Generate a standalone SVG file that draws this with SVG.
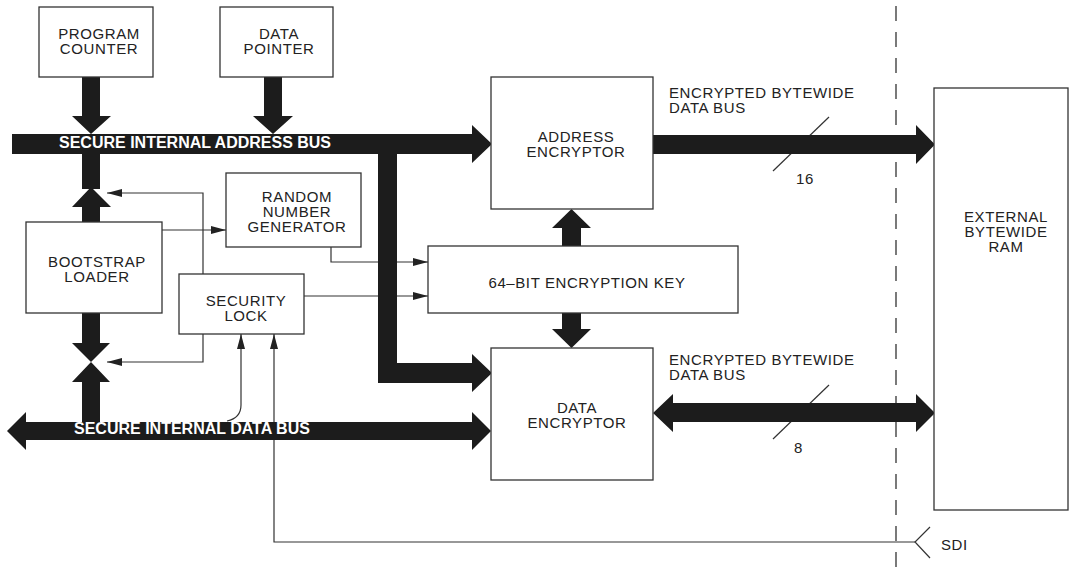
<svg xmlns="http://www.w3.org/2000/svg" width="1073" height="569" viewBox="0 0 1073 569">
  <style>
    .box { fill: #fff; stroke: #333; stroke-width: 1.3; }
    .lbl { font-family: "Liberation Sans", Arial, sans-serif; font-size: 15px; letter-spacing: 0.6px; fill: #222; }
    .mid { text-anchor: middle; }
    .bus-lbl { font-family: "Liberation Sans", Arial, sans-serif; font-size: 16px; font-weight: bold; fill: #fff; }
    .bus { fill: #1c1c1c; }
    .wire { fill: none; stroke: #333; stroke-width: 1.2; }
    .dash { fill: none; stroke: #333; stroke-width: 1.3; stroke-dasharray: 15 11; }
  </style>
  <defs>
    <marker id="ah" viewBox="0 0 15 8" refX="15" refY="4" markerWidth="15" markerHeight="8" orient="auto" markerUnits="userSpaceOnUse">
      <path d="M0,0 L15,4 L0,8 z" fill="#222"/>
    </marker>
  </defs>

  <rect width="1073" height="569" fill="#fff"/>

  <!-- chip boundary -->
  <line class="dash" x1="896" y1="6" x2="896" y2="569"/>

  <g id="connectors">
    <!-- control / signal wires -->
    <line class="wire" x1="162" y1="230" x2="226" y2="230" marker-end="url(#ah)"/>
    <polyline class="wire" points="203,274 203,193 107,193" marker-end="url(#ah)"/>
    <polyline class="wire" points="203,334 203,362 107,362" marker-end="url(#ah)"/>
    <polyline class="wire" points="331,247 331,262 428,262" marker-end="url(#ah)"/>
    <line class="wire" x1="304" y1="296" x2="428" y2="296" marker-end="url(#ah)"/>
    <path class="wire" d="M227,421 Q241,418 241,405 L241,334" marker-end="url(#ah)"/>
    <polyline class="wire" points="915,542 274,542 274,334" marker-end="url(#ah)"/>
    <polyline class="wire" points="930,527 915,542 930,558"/>

    <!-- bus width ticks -->
    <line class="wire" x1="829" y1="117" x2="773" y2="171"/>
    <line class="wire" x1="829" y1="385" x2="773" y2="439"/>

    <!-- wide buses -->
    <polygon class="bus" points="82,77 100,77 100,116 111,116 91,134 72,116 82,116"/>
    <polygon class="bus" points="264,77 282,77 282,116 293,116 273,134 253,116 264,116"/>
    <polygon class="bus" points="12,134 472,134 472,125 492,144 472,163 472,154 12,154"/>
    <polygon class="bus" points="378,154 397,154 397,363 472,363 472,354 492,373 472,392 472,383 378,383"/>
    <rect class="bus" x="82" y="154" width="18" height="35"/>
    <polygon class="bus" points="91,187 111,207 100,207 100,222 82,222 82,207 72,207"/>
    <polygon class="bus" points="82,313 100,313 100,343 110,343 91,362 72,343 82,343"/>
    <polygon class="bus" points="91,362 110,382 100,382 100,422 82,422 82,382 72,382"/>
    <polygon class="bus" points="7,431 26,412 26,422 472,422 472,412 491,431 472,450 472,440 26,440 26,450"/>
    <polygon class="bus" points="562,246 581,246 581,228 591,228 571.5,209 552,228 562,228"/>
    <polygon class="bus" points="562,313 581,313 581,329 591,329 571.5,348 552,329 562,329"/>
    <polygon class="bus" points="653,135 916,135 916,125 935,144.5 916,164 916,154 653,154"/>
    <polygon class="bus" points="653,413 673,394 673,403 916,403 916,394 935,413 916,432 916,422 673,422 673,432"/>

    <text class="bus-lbl" x="59" y="148">SECURE INTERNAL ADDRESS BUS</text>
    <text class="bus-lbl" x="74" y="434">SECURE INTERNAL DATA BUS</text>

    <text class="lbl" x="669" y="98">ENCRYPTED BYTEWIDE</text>
    <text class="lbl" x="669" y="113">DATA BUS</text>
    <text class="lbl" x="796" y="184">16</text>
    <text class="lbl" x="669" y="365">ENCRYPTED BYTEWIDE</text>
    <text class="lbl" x="669" y="380">DATA BUS</text>
    <text class="lbl" x="794" y="453">8</text>
    <text class="lbl" x="941" y="550">SDI</text>
  </g>

  <g id="program-counter">
    <rect class="box" x="39" y="7" width="114" height="70"/>
    <text class="lbl mid" x="99" y="39">PROGRAM</text>
    <text class="lbl mid" x="99" y="54">COUNTER</text>
  </g>

  <g id="data-pointer">
    <rect class="box" x="220" y="7" width="113" height="70"/>
    <text class="lbl mid" x="279" y="39">DATA</text>
    <text class="lbl mid" x="279" y="54">POINTER</text>
  </g>

  <g id="address-encryptor">
    <rect class="box" x="491" y="77" width="162" height="132"/>
    <text class="lbl mid" x="576" y="142">ADDRESS</text>
    <text class="lbl mid" x="576" y="157">ENCRYPTOR</text>
  </g>

  <g id="random-number-generator">
    <rect class="box" x="226" y="173" width="135" height="74"/>
    <text class="lbl mid" x="297" y="202">RANDOM</text>
    <text class="lbl mid" x="297" y="217">NUMBER</text>
    <text class="lbl mid" x="297" y="232">GENERATOR</text>
  </g>

  <g id="bootstrap-loader">
    <rect class="box" x="26" y="222" width="136" height="91"/>
    <text class="lbl mid" x="97" y="267">BOOTSTRAP</text>
    <text class="lbl mid" x="97" y="282">LOADER</text>
  </g>

  <g id="security-lock">
    <rect class="box" x="179" y="274" width="125" height="60"/>
    <text class="lbl mid" x="246" y="306">SECURITY</text>
    <text class="lbl mid" x="246" y="321">LOCK</text>
  </g>

  <g id="encryption-key">
    <rect class="box" x="428" y="246" width="310" height="67"/>
    <text class="lbl mid" x="587" y="288">64–BIT ENCRYPTION KEY</text>
  </g>

  <g id="data-encryptor">
    <rect class="box" x="491" y="348" width="162" height="132"/>
    <text class="lbl mid" x="577" y="413">DATA</text>
    <text class="lbl mid" x="577" y="428">ENCRYPTOR</text>
  </g>

  <g id="external-ram">
    <rect class="box" x="934" y="88" width="134" height="422"/>
    <text class="lbl mid" x="1006" y="222">EXTERNAL</text>
    <text class="lbl mid" x="1006" y="237">BYTEWIDE</text>
    <text class="lbl mid" x="1006" y="252">RAM</text>
  </g>
</svg>
